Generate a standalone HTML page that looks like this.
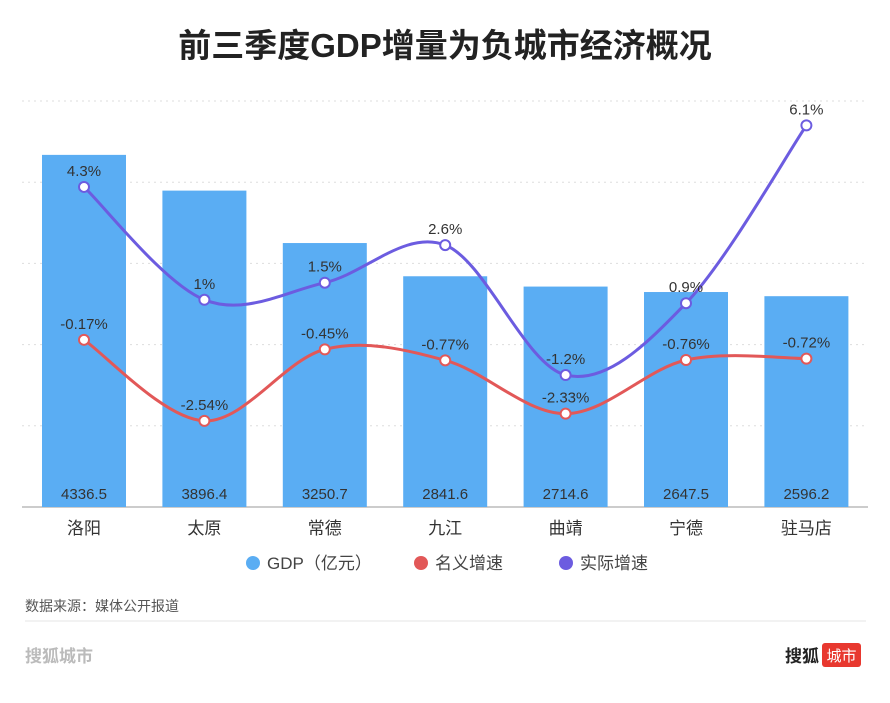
<!DOCTYPE html>
<html><head><meta charset="utf-8"><style>
body{margin:0;width:890px;height:698px;background:#fff;overflow:hidden;font-family:"Liberation Sans","Noto Sans CJK SC",sans-serif;}
</style></head><body>
<svg width="890" height="698" xmlns="http://www.w3.org/2000/svg" font-family="Liberation Sans, Noto Sans CJK SC, sans-serif">
<text x="445" y="57" text-anchor="middle" font-size="33" font-weight="bold" fill="#222">前三季度GDP增量为负城市经济概况</text>
<g id="grid"></g><g id="bars"></g><g id="lines"></g><g id="labels"></g>
<g>
<circle cx="253" cy="563" r="7" fill="#5aadf3"/>
<text x="267" y="569" font-size="17" fill="#444">GDP（亿元）</text>
<circle cx="421" cy="563" r="7" fill="#e25858"/>
<text x="435" y="569" font-size="17" fill="#444">名义增速</text>
<circle cx="566" cy="563" r="7" fill="#6c5ce0"/>
<text x="580" y="569" font-size="17" fill="#444">实际增速</text>
</g>
<text x="25" y="611" font-size="14" fill="#555">数据来源：媒体公开报道</text>
<line x1="25" y1="621" x2="866" y2="621" stroke="#e4e4e4"/>
<text x="25" y="662" font-size="17" font-weight="bold" fill="#bbb">搜狐城市</text>
<text x="785" y="662" font-size="17" font-weight="bold" fill="#222">搜狐</text>
<rect x="822" y="643" width="39" height="24" rx="3" fill="#e8382f"/>
<text x="841.5" y="661" text-anchor="middle" font-size="15" fill="#fff">城市</text>
</svg>
<script>
const categories=["洛阳","太原","常德","九江","曲靖","宁德","驻马店"];
const gdp=[4336.5,3896.4,3250.7,2841.6,2714.6,2647.5,2596.2];
const nominal=[-0.17,-2.54,-0.45,-0.77,-2.33,-0.76,-0.72];
const real=[4.3,1,1.5,2.6,-1.2,0.9,6.1];
const gdpTicks=[0,1000,2000,3000,4000,5000];
const NS="http://www.w3.org/2000/svg";
const base=507, gdpScale=406/5000;
const yG=v=>base-v*gdpScale;
const yR=v=>334-v*34.2;
const xC=i=>84+i*120.4;
function mk(t,a,p){const e=document.createElementNS(NS,t);for(const k in a)e.setAttribute(k,a[k]);p.appendChild(e);return e;}
const grid=document.getElementById('grid'),bars=document.getElementById('bars'),lines=document.getElementById('lines'),labels=document.getElementById('labels');
gdpTicks.forEach(t=>{if(t===0)return;const l=mk('line',{x1:22,x2:868,y1:yG(t),y2:yG(t),stroke:'#ddd','stroke-dasharray':'2 4'},grid);

});
const ax=mk('line',{x1:22,x2:868,y1:base,y2:base,stroke:'#999'},grid);


categories.forEach((c,i)=>{
 const r=mk('rect',{x:xC(i)-42,y:yG(gdp[i]),width:84,height:base-yG(gdp[i]),fill:'#5aadf3'},bars);
 
 
 const t=mk('text',{x:xC(i),y:base-8,'text-anchor':'middle','font-size':15,fill:'#333'},labels);t.textContent=gdp[i].toFixed(1);
 
 
 const k=mk('text',{x:xC(i),y:534,'text-anchor':'middle','font-size':17,fill:'#333'},labels);k.textContent=c;
 
 
});
function path(vals){const p=vals.map((v,i)=>[xC(i),yR(v)]);let d='M'+p[0][0]+','+p[0][1];
 for(let i=0;i<p.length-1;i++){const p0=p[i-1]||p[i],p1=p[i],p2=p[i+1],p3=p[i+2]||p2;
 const c1=[p1[0]+(p2[0]-p0[0])/6,p1[1]+(p2[1]-p0[1])/6],c2=[p2[0]-(p3[0]-p1[0])/6,p2[1]-(p3[1]-p1[1])/6];
 d+=` C${c1} ${c2} ${p2}`;}return d;}
[[nominal,'#e25858','nominal',v=>v+'%'],[real,'#6c5ce0','real',v=>v+'%']].forEach(([vals,col,nm,f])=>{
 const l=mk('path',{d:path(vals),fill:'none',stroke:col,'stroke-width':3},lines);
 
 
 vals.forEach((v,i)=>{const c=mk('circle',{cx:xC(i),cy:yR(v),r:5,fill:'#fff',stroke:col,'stroke-width':2},lines);
 
 
 const t=mk('text',{x:xC(i),y:yR(v)-11,'text-anchor':'middle','font-size':15,fill:'#333'},labels);t.textContent=f(v);
 
 });
});
</script>
</body></html>
